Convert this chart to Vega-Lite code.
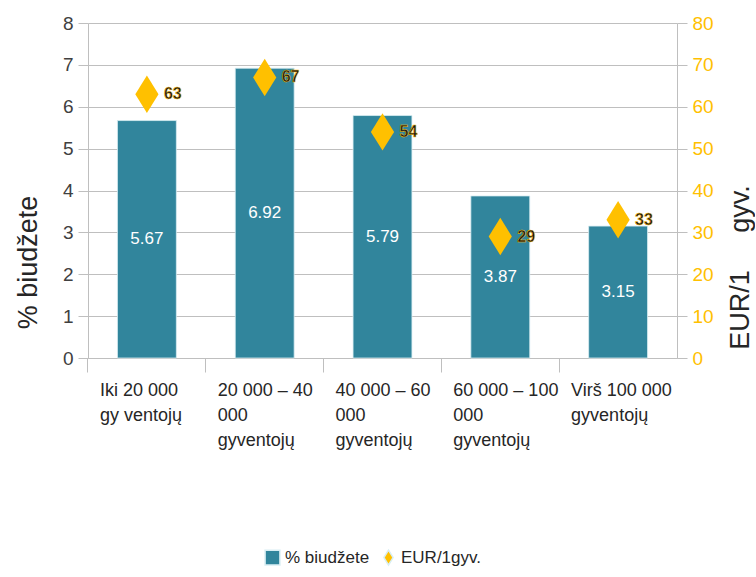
{
  "$schema": "https://vega.github.io/schema/vega-lite/v6.json",
  "width": 589,
  "height": 335,
  "padding": {"left": 14, "top": 14, "right": 1, "bottom": 5},
  "config": {
    "view": {"stroke": null},
    "font": "Liberation Sans",
    "axis": {"labelFont": "Liberation Sans", "titleFont": "Liberation Sans", "gridColor": "#bfbfbf", "domainColor": "#bfbfbf", "tickColor": "#bfbfbf"}
  },
  "data": {"values": [
    {"cat": "Iki 20 000\ngy ventojų", "pct": 5.67, "eur": 63},
    {"cat": "20 000 – 40\n000\ngyventojų", "pct": 6.92, "eur": 67},
    {"cat": "40 000 – 60\n000\ngyventojų", "pct": 5.79, "eur": 54},
    {"cat": "60 000 – 100\n000\ngyventojų", "pct": 3.87, "eur": 29},
    {"cat": "Virš 100 000\ngyventojų", "pct": 3.15, "eur": 33}
  ]},
  "encoding": {
    "x": {
      "field": "cat", "type": "nominal", "sort": null, "title": null,
      "scale": {"paddingInner": 0.5, "paddingOuter": 0.25},
      "axis": {
        "labelAngle": 0, "labelExpr": "split(datum.value, '\\n')", "labelAlign": "left",
        "labelBaseline": "top", "labelOffset": -47, "labelPadding": 9, "labelFontSize": 18,
        "labelLineHeight": 25, "labelColor": "#262626", "bandPosition": -0.5, "tickSize": 14,
        "domainColor": "#bfbfbf", "grid": false
      }
    }
  },
  "layer": [
    {
      "mark": {"type": "bar", "color": "#31859c", "stroke": "#d9eef3", "strokeWidth": 0.8},
      "encoding": {
        "y": {
          "field": "pct", "type": "quantitative", "scale": {"domain": [0, 8]},
          "title": "% biudžete",
          "axis": {"tickCount": 8, "grid": true, "labelFontSize": 19, "labelColor": "#404040", "labelPadding": 5, "tickSize": 10,
            "titleFontSize": 27, "titleFontWeight": "normal", "titleColor": "#262626", "titlePadding": 20, "titleY": 239}
        },
        "color": {"datum": "% biudžete", "type": "nominal",
          "scale": {"domain": ["% biudžete", "EUR/1gyv."], "range": ["#31859c", "#ffc000"]},
          "legend": {"orient": "none", "legendX": 176, "legendY": 526, "direction": "horizontal", "title": null,
            "labelFont": "Liberation Sans", "labelFontSize": 17, "labelColor": "#262626", "symbolSize": 220, "columnPadding": 10, "labelOffset": 4}}
      }
    },
    {
      "mark": {"type": "text", "color": "white", "fontSize": 17, "baseline": "middle"},
      "encoding": {
        "y": {"field": "pct", "type": "quantitative", "scale": {"domain": [0, 16]}, "axis": null},
        "text": {"field": "pct", "type": "quantitative", "format": ".2f"}
      }
    },
    {
      "encoding": {
        "y": {
          "field": "eur", "type": "quantitative", "scale": {"domain": [0, 80]},
          "title": "EUR/1\u00a0\u00a0\u00a0\u00a0\u00a0gyv.",
          "axis": {"orient": "right", "tickCount": 8, "grid": false, "labelFontSize": 19, "labelColor": "#ffc000", "labelPadding": 5, "tickSize": 10,
            "titleFontSize": 27, "titleFontWeight": "normal", "titleColor": "#262626", "titleAngle": 270, "titlePadding": 41, "titleY": 244}
        }
      },
      "layer": [
        {
          "mark": {"type": "point", "filled": true, "opacity": 1, "size": 1400},
          "encoding": {
            "color": {"datum": "EUR/1gyv.", "type": "nominal"},
            "shape": {"datum": "EUR/1gyv.", "type": "nominal",
              "scale": {"domain": ["% biudžete", "EUR/1gyv."], "range": ["square", "M0,-1L0.62,0L0,1L-0.62,0Z"]},
              "legend": null}
          }
        },
        {
          "mark": {"type": "text", "align": "left", "baseline": "middle", "dx": 17, "dy": 0, "fontSize": 16, "fontWeight": "bold", "color": "#1a1a1a", "stroke": "#ffc000", "strokeWidth": 0.5},
          "encoding": {"text": {"field": "eur", "type": "quantitative"}}
        }
      ]
    }
  ],
  "resolve": {"scale": {"y": "independent"}}
}
